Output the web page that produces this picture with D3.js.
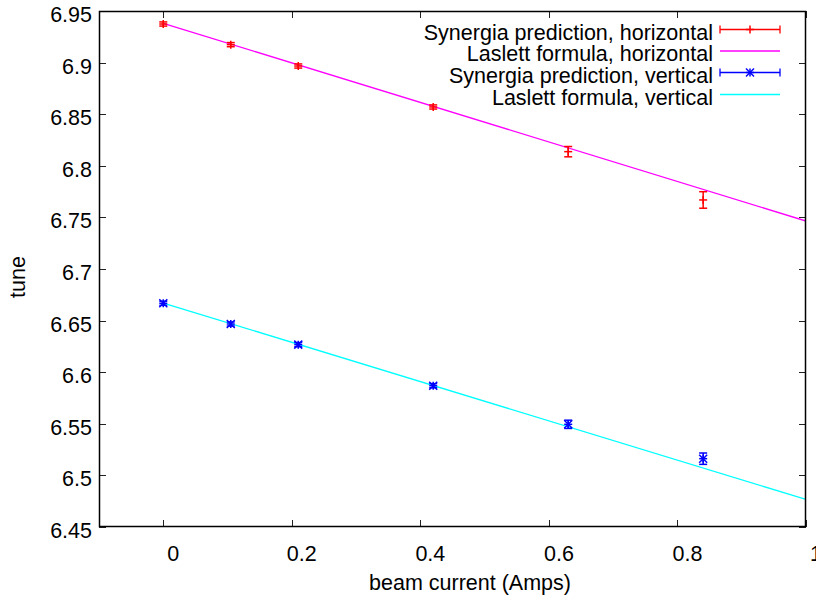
<!DOCTYPE html>
<html><head><meta charset="utf-8">
<script src="https://cdn.jsdelivr.net/npm/d3@7"></script>
<style>body{margin:0;background:#fff;} svg{display:block;font-family:"Liberation Sans",Arial,Helvetica,sans-serif;}</style>
</head><body>
<svg id="c" width="816" height="597"></svg>
<script>
const current = [0, 0.105, 0.21, 0.42, 0.63, 0.84];
const tuneH = [6.9374, 6.9174, 6.8967, 6.857, 6.8137, 6.7669];
const errH  = [0.002, 0.002, 0.002, 0.002, 0.005, 0.008];
const tuneV = [6.6668, 6.6467, 6.6267, 6.5869, 6.5495, 6.5162];
const errV  = [0.002, 0.002, 0.002, 0.002, 0.004, 0.0055];
const laslettH = [[0, 6.938], [1, 6.7465]];
const laslettV = [[0, 6.667], [1, 6.4767]];
const xTicks = [0, 0.2, 0.4, 0.6, 0.8, 1];
const yTicks = [6.45, 6.5, 6.55, 6.6, 6.65, 6.7, 6.75, 6.8, 6.85, 6.9, 6.95];
const legendLabels = ["Synergia prediction, horizontal", "Laslett formula, horizontal", "Synergia prediction, vertical", "Laslett formula, vertical"];

const L = 99, R = 806, T = 11, B = 527;
const svg = d3.select("#c");
const x = d3.scaleLinear().domain([-0.1, 1]).range([L, R]);
const y = d3.scaleLinear().domain([6.45, 6.95]).range([B, T]);
const fs = 21.5;

svg.append("defs").append("clipPath").attr("id","clip").append("rect")
  .attr("x",L).attr("y",T).attr("width",R-L).attr("height",B-T);

// ticks (inward, mirrored)
const tk = 7;
const tg = svg.append("g").attr("stroke","#222").attr("stroke-width",1);
xTicks.forEach(v=>{
  const px = Math.round(x(v))+0.5;
  tg.append("line").attr("x1",px).attr("x2",px).attr("y1",B).attr("y2",B-tk);
  tg.append("line").attr("x1",px).attr("x2",px).attr("y1",T).attr("y2",T+tk);
});
yTicks.forEach(v=>{
  const py = Math.round(y(v))+0.5;
  tg.append("line").attr("x1",L).attr("x2",L+tk).attr("y1",py).attr("y2",py);
  tg.append("line").attr("x1",R).attr("x2",R-tk).attr("y1",py).attr("y2",py);
});
// tick labels
xTicks.forEach(v=>{
  svg.append("text").attr("x",x(v)+10).attr("y",B+34).attr("text-anchor","middle")
    .attr("font-size",fs).text(d3.format("")(v));
});
yTicks.forEach(v=>{
  svg.append("text").attr("x",L-7).attr("y",y(v)+11).attr("text-anchor","end")
    .attr("font-size",fs).text(v);
});
// axis titles
svg.append("text").attr("x",470).attr("y",590).attr("text-anchor","middle").attr("font-size",fs).text("beam current (Amps)");
svg.append("text").attr("transform","translate(25,277) rotate(-90)").attr("text-anchor","middle").attr("font-size",fs).text("tune");

const plot = svg.append("g").attr("clip-path","url(#clip)");
const line = d3.line().x(d=>x(d[0])).y(d=>y(d[1]));
plot.append("path").attr("d",line(laslettH)).attr("fill","none").attr("stroke","#ff00ff").attr("stroke-width",1.3);
plot.append("path").attr("d",line(laslettV)).attr("fill","none").attr("stroke","#00ffff").attr("stroke-width",1.3);

const sw = 1.5;
function errbars(g, xs, ys, es, color, marker){
  xs.forEach((xv,i)=>{
    const cx = x(xv), cy = y(ys[i]), y1 = y(ys[i]+es[i]), y2 = y(ys[i]-es[i]);
    const cw = 4;
    g.append("line").attr("x1",cx).attr("x2",cx).attr("y1",y1).attr("y2",y2).attr("stroke",color).attr("stroke-width",sw);
    g.append("line").attr("x1",cx-cw).attr("x2",cx+cw).attr("y1",y1).attr("y2",y1).attr("stroke",color).attr("stroke-width",sw);
    g.append("line").attr("x1",cx-cw).attr("x2",cx+cw).attr("y1",y2).attr("y2",y2).attr("stroke",color).attr("stroke-width",sw);
    drawMarker(g, cx, cy, color, marker);
  });
}
function drawMarker(g, cx, cy, color, marker){
  const s = 4;
  g.append("line").attr("x1",cx-s).attr("x2",cx+s).attr("y1",cy).attr("y2",cy).attr("stroke",color).attr("stroke-width",sw);
  g.append("line").attr("x1",cx).attr("x2",cx).attr("y1",cy-s).attr("y2",cy+s).attr("stroke",color).attr("stroke-width",sw);
  if(marker==="star"){
    g.append("line").attr("x1",cx-s).attr("x2",cx+s).attr("y1",cy-s).attr("y2",cy+s).attr("stroke",color).attr("stroke-width",sw);
    g.append("line").attr("x1",cx-s).attr("x2",cx+s).attr("y1",cy+s).attr("y2",cy-s).attr("stroke",color).attr("stroke-width",sw);
  }
}
errbars(plot, current, tuneH, errH, "#ff0000", "plus");
errbars(plot, current, tuneV, errV, "#0000ff", "star");

// legend
const lg = svg.append("g");
const ly = [29.5, 51, 72.5, 94.5];
const colors = ["#ff0000","#ff00ff","#0000ff","#00ffff"];
legendLabels.forEach((t,i)=>{
  lg.append("text").attr("x",713).attr("y",ly[i]+10).attr("text-anchor","end").attr("font-size",fs).text(t);
  lg.append("line").attr("x1",720).attr("x2",780).attr("y1",ly[i]).attr("y2",ly[i]).attr("stroke",colors[i]).attr("stroke-width",1.3);
  if(i===0||i===2){
    [720,780].forEach(px=>lg.append("line").attr("x1",px).attr("x2",px).attr("y1",ly[i]-4).attr("y2",ly[i]+4).attr("stroke",colors[i]).attr("stroke-width",1.3));
    drawMarker(lg, 750, ly[i], colors[i], i===0?"plus":"star");
  }
});

// frame
svg.append("rect").attr("x",L+0.5).attr("y",T+0.5).attr("width",R-L-1).attr("height",B-T-1)
  .attr("fill","none").attr("stroke","#000").attr("stroke-width",1.5);
</script>
</body></html>
